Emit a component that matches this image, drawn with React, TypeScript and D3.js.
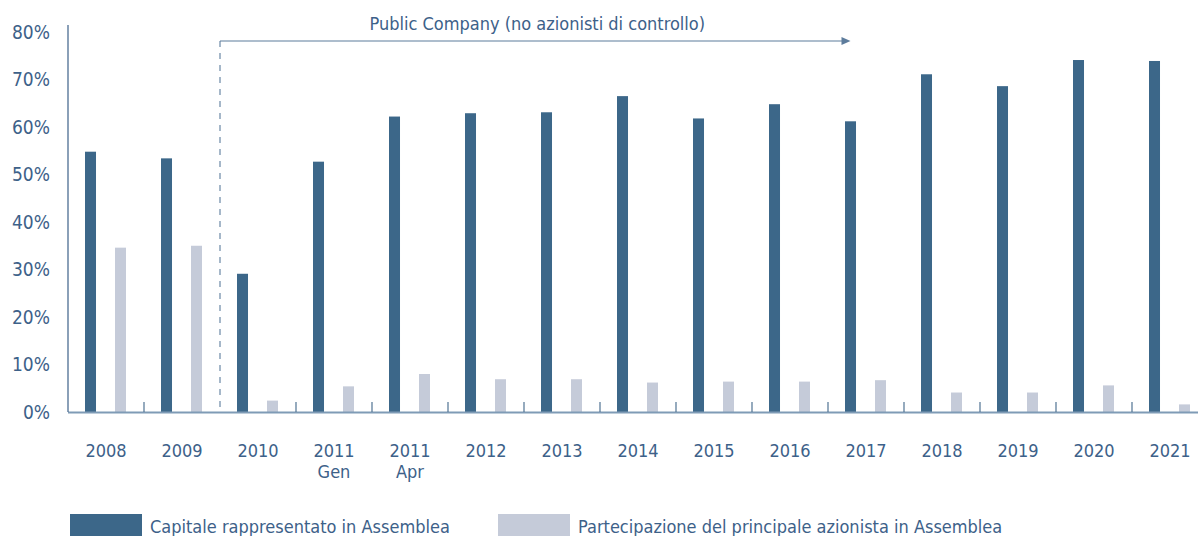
import * as d3 from "d3";
import { useEffect, useRef } from "react";

const categories = ["2008", "2009", "2010", "2011\nGen", "2011\nApr", "2012", "2013", "2014", "2015", "2016", "2017", "2018", "2019", "2020", "2021"];
const capitale = [54.8, 53.4, 29.1, 52.7, 62.2, 62.9, 63.1, 66.5, 61.8, 64.8, 61.2, 71.1, 68.6, 74.1, 73.9];
const principale = [34.6, 35.0, 2.4, 5.4, 8.0, 6.9, 6.9, 6.2, 6.4, 6.4, 6.7, 4.1, 4.1, 5.6, 1.6];
const yTicks = [0, 10, 20, 30, 40, 50, 60, 70, 80];
const seriesNames = ["Capitale rappresentato in Assemblea", "Partecipazione del principale azionista in Assemblea"];
const annotation = "Public Company (no azionisti di controllo)";

const FONT = "'Liberation Sans Narrow', 'DejaVu Sans Condensed', sans-serif";
const DARK = "#3c6789";
const LIGHT = "#c5cbd9";
const TEXT = "#3d6189";

const App = () => {
  const ref = useRef<SVGSVGElement>(null);

  useEffect(() => {
    const width = 1198;
    const svg = d3.select(ref.current);
    svg.selectAll("*").remove();

    const left = 68, step = 76;
    const x = d3.scaleBand().domain(categories).range([left, left + step * categories.length]);
    const sub = d3.scaleBand().domain(["a", "b"]).range([17, 58]).paddingInner(0.633);
    const y = d3.scaleLinear().domain([0, 80]).range([412, 32]);

    // y labels
    svg.append("g")
      .selectAll("text")
      .data(yTicks)
      .join("text")
      .attr("x", 50)
      .attr("y", (d) => y(d))
      .attr("dy", "0.35em")
      .attr("text-anchor", "end")
      .attr("font-size", 19)
      .attr("font-family", FONT)
      .attr("fill", TEXT)
      .text((d) => d + "%");

    // bars
    svg.append("g")
      .selectAll("rect")
      .data(capitale)
      .join("rect")
      .attr("x", (d, i) => x(categories[i])! + sub("a")!)
      .attr("y", (d) => y(d))
      .attr("width", sub.bandwidth())
      .attr("height", (d) => y(0) - y(d))
      .attr("fill", DARK);

    svg.append("g")
      .selectAll("rect")
      .data(principale)
      .join("rect")
      .attr("x", (d, i) => x(categories[i])! + sub("b")!)
      .attr("y", (d) => y(d))
      .attr("width", sub.bandwidth())
      .attr("height", (d) => y(0) - y(d))
      .attr("fill", LIGHT);

    // axes lines
    svg.append("line")
      .attr("x1", left).attr("x2", width)
      .attr("y1", y(0) + 0.5).attr("y2", y(0) + 0.5)
      .attr("stroke", "#7f9bb6").attr("stroke-width", 2);
    svg.append("line")
      .attr("x1", left).attr("x2", left)
      .attr("y1", 25).attr("y2", y(0))
      .attr("stroke", TEXT).attr("stroke-width", 1.2);

    // small separators between categories
    svg.append("g")
      .selectAll("line")
      .data(categories.slice(0, -1).filter((c) => c !== "2009"))
      .join("line")
      .attr("x1", (d) => x(d)! + step).attr("x2", (d) => x(d)! + step)
      .attr("y1", y(0) - 10).attr("y2", y(0))
      .attr("stroke", "#4f7293").attr("stroke-width", 1.2);

    // x labels
    const xl = svg.append("g")
      .selectAll("text")
      .data(categories)
      .join("text")
      .attr("x", (d) => x(d)! + x.bandwidth() / 2)
      .attr("y", 457)
      .attr("text-anchor", "middle")
      .attr("font-size", 18)
      .attr("font-family", FONT)
      .attr("fill", TEXT);
    xl.each(function (d) {
      const lines = d.split("\n");
      d3.select(this).selectAll("tspan")
        .data(lines)
        .join("tspan")
        .attr("x", x(d)! + x.bandwidth() / 2)
        .attr("dy", (l, i) => (i === 0 ? 0 : 21))
        .text((l) => l);
    });

    // annotation
    const ax0 = x("2010")!;
    const ax1 = x("2017")! + sub("a")! + sub.bandwidth() / 2;
    const ay = 41;
    svg.append("line")
      .attr("x1", ax0).attr("x2", ax0)
      .attr("y1", ay).attr("y2", y(0))
      .attr("stroke", "#6a88a6").attr("stroke-width", 1.2)
      .attr("stroke-dasharray", "6,6");
    svg.append("line")
      .attr("x1", ax0).attr("x2", ax1 - 7)
      .attr("y1", ay).attr("y2", ay)
      .attr("stroke", "#5d7c9c").attr("stroke-width", 1.2);
    svg.append("path")
      .attr("d", `M${ax1},${ay} L${ax1 - 9},${ay - 4} L${ax1 - 9},${ay + 4} Z`)
      .attr("fill", "#5d7c9c");
    svg.append("text")
      .attr("x", (ax0 + ax1) / 2 + 2)
      .attr("y", 30)
      .attr("text-anchor", "middle")
      .attr("font-size", 18)
      .attr("font-family", FONT)
      .attr("fill", TEXT)
      .text(annotation);

    // legend
    const legendX = [70, 498];
    const legendColors = [DARK, LIGHT];
    const lg = svg.append("g")
      .selectAll("g")
      .data(seriesNames)
      .join("g")
      .attr("transform", (d, i) => `translate(${legendX[i]},514)`);
    lg.append("rect")
      .attr("width", 72).attr("height", 22)
      .attr("fill", (d, i) => legendColors[i]);
    lg.append("text")
      .attr("x", 80).attr("y", 19)
      .attr("font-size", 18)
      .attr("font-family", FONT)
      .attr("fill", TEXT)
      .text((d) => d);
  }, []);

  return (
    <svg
      ref={ref}
      width={1198}
      height={536}
      style={{ position: "absolute", left: 0, top: 0, background: "#fff" }}
    />
  );
};

export default App;
